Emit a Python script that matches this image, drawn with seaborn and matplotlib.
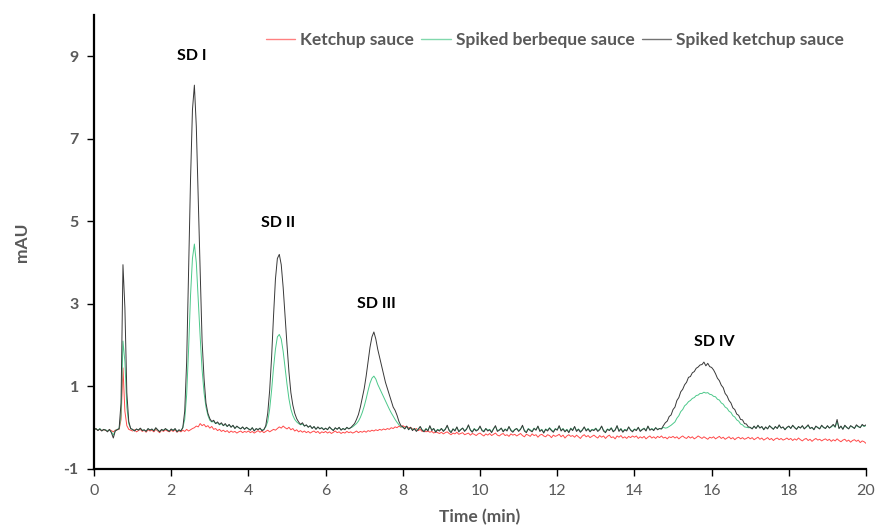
import numpy as np
import pandas as pd
import matplotlib
matplotlib.use('Agg')
import matplotlib.pyplot as plt
import seaborn as sns

# retention time grid (min), one reading every 0.05 min
time_min = np.round(np.arange(0, 20.001, 0.05), 2)

# Spiked ketchup sauce (black trace), one row per minute
spiked_ketchup = [
    -0.05, -0.02, -0.07, -0.03, -0.08, -0.04, -0.06, -0.10, -0.04, -0.12, -0.25, -0.08, -0.05, -0.02, 0.60, 3.95, 2.90, 0.85, 0.15, -0.02,
    -0.04, -0.08, -0.03, -0.06, -0.01, -0.07, -0.05, -0.09, -0.02, -0.06, -0.03, -0.08, 0.00, -0.05, -0.10, -0.04, -0.07, -0.02, -0.06, -0.09,
    -0.03, -0.07, -0.02, -0.10, -0.05, -0.08, 0.00, 0.40, 1.60, 3.80, 6.00, 7.70, 8.30, 7.30, 5.50, 3.80, 2.10, 1.20, 0.60, 0.35,
    0.22, 0.15, 0.18, 0.10, 0.14, 0.08, 0.12, 0.05, 0.10, 0.03, 0.08, 0.01, 0.06, -0.02, 0.04, 0.00, -0.03, 0.02, -0.04, 0.01,
    -0.03, -0.06, 0.00, -0.08, -0.02, -0.05, -0.01, -0.07, -0.05, 0.05, 0.35, 0.90, 1.70, 2.70, 3.60, 4.10, 4.20, 3.95, 3.40, 2.70,
    2.00, 1.35, 0.85, 0.55, 0.35, 0.22, 0.14, 0.08, 0.12, 0.04, 0.07, 0.01, 0.05, -0.02, 0.03, -0.04, 0.02, -0.03, 0.00, -0.05,
    -0.01, -0.05, 0.02, -0.03, -0.07, 0.00, -0.04, 0.01, -0.06, -0.02, -0.05, 0.01, -0.03, 0.00, 0.05, 0.10, 0.20, 0.32, 0.50, 0.72,
    0.95, 1.25, 1.60, 1.95, 2.20, 2.32, 2.15, 1.90, 1.70, 1.50, 1.30, 1.10, 0.95, 0.80, 0.65, 0.50, 0.42, 0.30, 0.15, 0.05,
    0.02, -0.03, 0.04, -0.05, 0.01, -0.07, -0.02, -0.09, -0.04, 0.03, -0.06, -0.10, -0.03, -0.08, 0.05, -0.07, -0.02, -0.11, -0.05, -0.08,
    -0.02, -0.09, -0.04, 0.06, -0.07, -0.12, -0.03, -0.08, 0.02, -0.10, -0.05, -0.01, -0.09, -0.04, 0.07, -0.06, -0.11, -0.03, -0.08, -0.05,
    0.04, -0.07, -0.10, -0.02, -0.08, -0.05, -0.12, -0.03, 0.05, -0.09, -0.06, -0.01, -0.10, -0.04, -0.08, 0.03, -0.07, -0.11, -0.05, -0.02,
    -0.09, -0.04, 0.06, -0.08, -0.12, -0.03, -0.07, -0.10, -0.02, -0.06, 0.04, -0.09, -0.05, -0.13, -0.04, -0.08, -0.01, -0.07, -0.11, -0.03,
    -0.06, 0.05, -0.08, -0.03, -0.10, -0.05, -0.12, -0.02, -0.07, 0.03, -0.09, -0.04, -0.11, -0.06, 0.02, -0.08, -0.03, -0.10, -0.05, -0.07,
    -0.02, -0.09, -0.05, 0.04, -0.08, -0.12, -0.04, -0.07, -0.01, -0.10, -0.06, 0.05, -0.09, -0.03, -0.11, -0.05, -0.08, 0.02, -0.06, -0.10,
    -0.04, -0.07, 0.01, -0.09, -0.05, -0.02, -0.08, 0.04, -0.06, -0.03, -0.07, 0.00, -0.05, -0.02, -0.03, 0.05, 0.12, 0.16, 0.27, 0.31,
    0.44, 0.50, 0.66, 0.73, 0.87, 0.93, 1.04, 1.10, 1.22, 1.24, 1.33, 1.36, 1.44, 1.47, 1.52, 1.53, 1.59, 1.50, 1.56, 1.48,
    1.46, 1.40, 1.31, 1.20, 1.14, 1.03, 0.97, 0.83, 0.77, 0.66, 0.60, 0.48, 0.44, 0.33, 0.30, 0.20, 0.19, 0.10, 0.09, 0.02,
    0.01, -0.03, 0.04, -0.02, 0.06, -0.01, 0.03, -0.05, 0.02, -0.03, 0.05, 0.00, -0.04, 0.03, -0.02, 0.07, -0.01, 0.02, -0.05, 0.01,
    0.04, -0.02, 0.06, 0.00, -0.04, 0.03, -0.01, 0.05, -0.03, 0.02, 0.07, -0.02, 0.01, -0.05, 0.04, 0.00, -0.03, 0.06, 0.01, -0.02,
    0.05, -0.01, 0.03, 0.08, 0.02, 0.20, -0.02, 0.04, -0.04, 0.06, 0.01, -0.03, 0.05, 0.02, -0.02, 0.07, 0.03, 0.00, 0.08, 0.04,
    0.07,
]

# Spiked berbeque sauce (green trace)
spiked_bbq = [
    -0.04, -0.03, -0.06, -0.02, -0.07, -0.05, -0.05, -0.08, -0.05, -0.10, -0.18, -0.07, -0.04, -0.03, 0.30, 2.10, 1.60, 0.50, 0.10, -0.02,
    -0.05, -0.07, -0.04, -0.05, -0.02, -0.06, -0.06, -0.08, -0.03, -0.05, -0.04, -0.07, -0.01, -0.06, -0.09, -0.05, -0.06, -0.03, -0.05, -0.08,
    -0.04, -0.06, -0.03, -0.09, -0.06, -0.07, 0.00, 0.20, 0.80, 1.90, 3.20, 4.10, 4.45, 4.00, 3.10, 2.20, 1.40, 0.85, 0.50, 0.30,
    0.18, 0.14, 0.15, 0.10, 0.12, 0.07, 0.10, 0.05, 0.08, 0.03, 0.07, 0.02, 0.05, -0.01, 0.03, 0.00, -0.02, 0.01, -0.03, 0.00,
    -0.02, -0.05, 0.00, -0.07, -0.03, -0.04, -0.02, -0.06, -0.04, 0.02, 0.15, 0.45, 0.90, 1.45, 1.90, 2.20, 2.26, 2.15, 1.85, 1.45,
    1.05, 0.70, 0.45, 0.30, 0.20, 0.14, 0.10, 0.07, 0.09, 0.04, 0.06, 0.02, 0.04, -0.01, 0.02, -0.03, 0.01, -0.02, 0.00, -0.04,
    -0.02, -0.04, 0.01, -0.03, -0.06, -0.01, -0.03, 0.00, -0.05, -0.02, -0.04, 0.00, -0.02, 0.00, 0.02, 0.06, 0.10, 0.16, 0.25, 0.37,
    0.52, 0.70, 0.90, 1.08, 1.20, 1.25, 1.18, 1.05, 0.95, 0.85, 0.75, 0.65, 0.55, 0.45, 0.36, 0.28, 0.20, 0.13, 0.07, 0.03,
    0.01, -0.02, 0.03, -0.04, 0.00, -0.05, -0.02, -0.07, -0.03, 0.02, -0.05, -0.08, -0.02, -0.06, 0.03, -0.05, -0.02, -0.09, -0.04, -0.06,
    -0.02, -0.07, -0.03, 0.04, -0.05, -0.10, -0.03, -0.06, 0.01, -0.08, -0.04, -0.01, -0.07, -0.03, 0.05, -0.05, -0.09, -0.02, -0.06, -0.04,
    0.02, -0.05, -0.08, -0.02, -0.06, -0.04, -0.10, -0.02, 0.03, -0.07, -0.05, -0.01, -0.08, -0.03, -0.06, 0.02, -0.05, -0.09, -0.04, -0.02,
    -0.07, -0.03, 0.04, -0.06, -0.10, -0.02, -0.05, -0.08, -0.01, -0.05, 0.03, -0.07, -0.04, -0.11, -0.03, -0.06, 0.00, -0.05, -0.09, -0.02,
    -0.05, 0.03, -0.06, -0.02, -0.08, -0.04, -0.10, -0.01, -0.05, 0.02, -0.07, -0.03, -0.09, -0.05, 0.01, -0.06, -0.02, -0.08, -0.04, -0.05,
    -0.01, -0.07, -0.04, 0.03, -0.06, -0.10, -0.03, -0.05, 0.00, -0.08, -0.05, 0.04, -0.07, -0.02, -0.09, -0.04, -0.06, 0.01, -0.05, -0.08,
    -0.03, -0.05, 0.00, -0.07, -0.04, -0.01, -0.06, 0.03, -0.05, -0.02, -0.05, 0.00, -0.04, -0.02, -0.03, 0.01, -0.01, 0.00, 0.03, 0.06,
    0.10, 0.14, 0.23, 0.29, 0.39, 0.44, 0.53, 0.57, 0.63, 0.66, 0.71, 0.73, 0.78, 0.79, 0.83, 0.83, 0.86, 0.84, 0.85, 0.81,
    0.80, 0.76, 0.75, 0.69, 0.67, 0.60, 0.57, 0.50, 0.47, 0.40, 0.37, 0.29, 0.26, 0.19, 0.16, 0.09, 0.07, 0.02, 0.01, 0.00,
    0.00, -0.02, 0.03, -0.01, 0.05, 0.00, 0.02, -0.04, 0.01, -0.02, 0.04, 0.01, -0.03, 0.02, -0.01, 0.05, 0.00, 0.01, -0.04, 0.00,
    0.03, -0.01, 0.05, 0.01, -0.03, 0.02, 0.00, 0.04, -0.02, 0.01, 0.05, -0.01, 0.00, -0.04, 0.03, 0.01, -0.02, 0.05, 0.00, -0.01,
    0.04, 0.00, 0.02, 0.06, 0.01, 0.15, -0.01, 0.03, -0.03, 0.05, 0.00, -0.02, 0.04, 0.01, -0.01, 0.05, 0.02, 0.01, 0.06, 0.03,
    0.05,
]

# Ketchup sauce, not spiked (red trace)
ketchup = [
    -0.05, -0.03, -0.06, -0.04, -0.07, -0.05, -0.06, -0.08, -0.05, -0.07, -0.10, -0.06, -0.05, -0.04, 0.20, 1.45, 0.40, 0.05, -0.04, -0.06,
    -0.08, -0.05, -0.10, -0.07, -0.04, -0.09, -0.06, -0.11, -0.05, -0.08, -0.06, -0.10, -0.04, -0.08, -0.12, -0.06, -0.09, -0.05, -0.08, -0.10,
    -0.06, -0.09, -0.05, -0.11, -0.07, -0.10, -0.06, -0.09, -0.04, -0.08, -0.05, -0.02, 0.00, 0.04, 0.02, 0.10, 0.05, 0.08, 0.02, 0.05,
    -0.01, 0.03, -0.04, -0.02, -0.07, -0.04, -0.09, -0.06, -0.10, -0.07, -0.12, -0.08, -0.11, -0.09, -0.13, -0.10, -0.08, -0.12, -0.09, -0.11,
    -0.08, -0.12, -0.09, -0.13, -0.10, -0.07, -0.11, -0.08, -0.12, -0.09, -0.06, -0.10, -0.07, -0.04, -0.06, -0.02, 0.02, -0.01, 0.04, 0.00,
    -0.03, 0.01, -0.05, -0.02, -0.08, -0.05, -0.10, -0.07, -0.11, -0.08, -0.12, -0.09, -0.13, -0.10, -0.08, -0.12, -0.09, -0.14, -0.10, -0.12,
    -0.09, -0.13, -0.10, -0.14, -0.11, -0.08, -0.12, -0.10, -0.14, -0.11, -0.13, -0.09, -0.12, -0.10, -0.13, -0.11, -0.08, -0.12, -0.09, -0.11,
    -0.08, -0.11, -0.07, -0.09, -0.06, -0.08, -0.05, -0.07, -0.04, -0.06, -0.03, -0.05, -0.02, -0.04, 0.00, -0.02, 0.02, 0.00, 0.04, 0.01,
    0.05, 0.02, 0.03, -0.01, 0.01, -0.03, -0.05, -0.02, -0.07, -0.04, -0.09, -0.06, -0.10, -0.08, -0.11, -0.09, -0.13, -0.10, -0.12, -0.14,
    -0.11, -0.15, -0.12, -0.10, -0.14, -0.17, -0.13, -0.15, -0.11, -0.16, -0.14, -0.12, -0.17, -0.15, -0.13, -0.18, -0.14, -0.16, -0.19, -0.15,
    -0.13, -0.17, -0.20, -0.15, -0.18, -0.14, -0.19, -0.16, -0.13, -0.18, -0.20, -0.16, -0.14, -0.19, -0.17, -0.21, -0.15, -0.18, -0.16, -0.20,
    -0.17, -0.14, -0.19, -0.22, -0.16, -0.18, -0.21, -0.15, -0.19, -0.17, -0.23, -0.18, -0.16, -0.20, -0.22, -0.17, -0.19, -0.24, -0.18, -0.21,
    -0.19, -0.16, -0.22, -0.18, -0.25, -0.20, -0.17, -0.21, -0.19, -0.23, -0.18, -0.22, -0.26, -0.20, -0.17, -0.22, -0.19, -0.24, -0.21, -0.18,
    -0.22, -0.25, -0.19, -0.23, -0.20, -0.26, -0.21, -0.18, -0.24, -0.22, -0.27, -0.20, -0.23, -0.19, -0.25, -0.22, -0.26, -0.21, -0.24, -0.20,
    -0.23, -0.20, -0.26, -0.22, -0.25, -0.21, -0.27, -0.23, -0.20, -0.25, -0.22, -0.26, -0.21, -0.24, -0.20, -0.25, -0.23, -0.27, -0.22, -0.24,
    -0.21, -0.25, -0.22, -0.27, -0.23, -0.20, -0.24, -0.26, -0.21, -0.25, -0.22, -0.27, -0.24, -0.20, -0.23, -0.26, -0.22, -0.25, -0.28, -0.23,
    -0.25, -0.22, -0.27, -0.24, -0.21, -0.26, -0.23, -0.28, -0.25, -0.22, -0.27, -0.24, -0.29, -0.25, -0.23, -0.27, -0.24, -0.28, -0.26, -0.23,
    -0.27, -0.24, -0.29, -0.26, -0.23, -0.28, -0.25, -0.30, -0.27, -0.24, -0.29, -0.26, -0.31, -0.27, -0.25, -0.29, -0.26, -0.30, -0.28, -0.25,
    -0.29, -0.26, -0.31, -0.27, -0.30, -0.25, -0.29, -0.32, -0.28, -0.26, -0.31, -0.28, -0.33, -0.29, -0.26, -0.30, -0.28, -0.32, -0.29, -0.27,
    -0.31, -0.28, -0.33, -0.29, -0.32, -0.27, -0.31, -0.34, -0.30, -0.28, -0.33, -0.30, -0.35, -0.31, -0.29, -0.33, -0.30, -0.36, -0.32, -0.34,
    -0.38,
]

sample_names = ['Ketchup sauce', 'Spiked berbeque sauce', 'Spiked ketchup sauce']
line_colors = ['#ff4a4a', '#4cc88a', '#383838']

# peak labels: text, time (min), mAU
peak_labels = ['SD I', 'SD II', 'SD III', 'SD IV']
peak_label_x = [2.54, 4.77, 7.31, 16.06]
peak_label_y = [9.0, 4.96, 2.99, 2.07]

frames = []
for name, vals in zip(sample_names, [ketchup, spiked_bbq, spiked_ketchup]):
    frames.append(pd.DataFrame({'Time (min)': time_min, 'mAU': vals, 'sample': name}))
df = pd.concat(frames, ignore_index=True)

sns.set_style('ticks')
plt.rcParams['font.family'] = ['Lato', 'DejaVu Sans']
plt.rcParams['axes.unicode_minus'] = False

fig = plt.figure(figsize=(8.77, 5.26), dpi=100)
ax = fig.add_axes([0.1072, 0.1084, 0.8803, 0.8631])

sns.lineplot(data=df, x='Time (min)', y='mAU', hue='sample', hue_order=sample_names,
             palette=line_colors, estimator=None, linewidth=0.7, ax=ax)

ax.set_xlim(0, 20)
ax.set_ylim(-1, 10)
ax.set_xticks(range(0, 21, 2))
ax.set_yticks([-1, 1, 3, 5, 7, 9])

gray = '#595959'
for side in ['top', 'right']:
    ax.spines[side].set_visible(False)
for side in ['left', 'bottom']:
    ax.spines[side].set_linewidth(1.6)
    ax.spines[side].set_color('black')

ax.tick_params(axis='x', direction='out', length=5, width=1, color='black',
               labelsize=11.5, labelcolor=gray, pad=6)
ax.tick_params(axis='y', direction='out', length=5, width=1, color='black',
               labelsize=11.5, labelcolor=gray, pad=6)
for lab in ax.get_yticklabels():
    lab.set_fontweight('bold')

ax.set_xlabel('Time (min)', fontsize=12.5, fontweight='bold', color=gray)
ax.set_ylabel('mAU', fontsize=12.5, fontweight='bold', color=gray)
ax.xaxis.set_label_coords(0.5, -0.088)
ax.yaxis.set_label_coords(-0.083, 0.5)

for txt, x, y in zip(peak_labels, peak_label_x, peak_label_y):
    ax.text(x, y, txt, ha='center', va='center', fontsize=11.5, fontweight='bold', color='black')

handles, labels = ax.get_legend_handles_labels()
leg = ax.legend(handles, labels, loc='center', bbox_to_anchor=(0.597, 0.945), ncol=3,
                frameon=False, handlelength=1.7, handletextpad=0.3, columnspacing=0.4,
                prop={'size': 12.5, 'weight': 'bold'}, labelcolor=gray)
# make sure legend keys keep the trace colours
for line, col in zip(leg.get_lines(), line_colors):
    line.set_color(col)
    line.set_linewidth(1.0)
    line.set_alpha(0.7)

plt.savefig('out.png', dpi=100)
